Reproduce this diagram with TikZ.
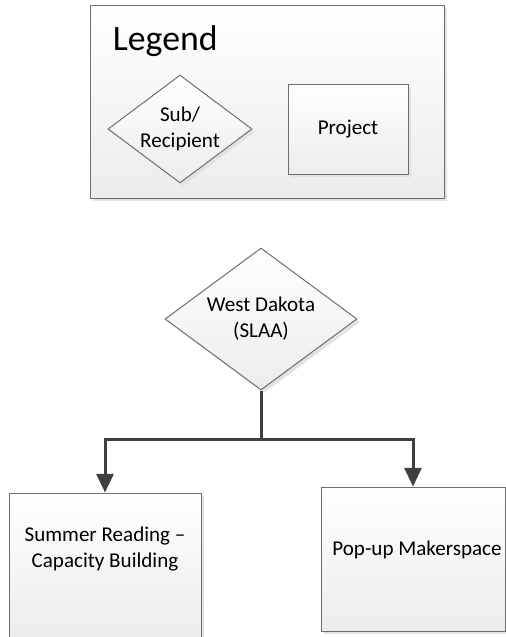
\documentclass[tikz,border=0pt]{standalone}
\usepackage{fontspec}
\setmainfont{Carlito}
\usetikzlibrary{shapes.geometric,arrows.meta,shadows}

\definecolor{shapeline}{RGB}{110,110,110}
\definecolor{shapefill}{RGB}{236,236,236}
\definecolor{shapeshadow}{RGB}{226,226,226}
\definecolor{linkcolor}{RGB}{64,64,64}

\tikzset{every picture/.style={line width=0.75pt}}
\tikzset{
  shapebox/.style={draw=shapeline, top color=white, bottom color=shapefill, inner sep=0pt,
    drop shadow={shadow xshift=2.25pt, shadow yshift=-2.25pt, fill=shapeshadow, opacity=1}},
  rectnode/.style={shapebox, rectangle},
  diamondnode/.style={shapebox, diamond, aspect=1.35},
  labeltext/.style={font=\fontsize{15.8}{19.5}\selectfont, align=center},
  connector/.style={draw=linkcolor, line width=2.25pt, -{Triangle[width=12.75pt,length=14pt]}}
}

\begin{document}
\begin{tikzpicture}[x=0.75pt,y=0.75pt,yscale=-1,xscale=1]
	\useasboundingbox (0,0) rectangle (506,637);

	%Shape: Rectangle [legend frame]
	\node [rectnode, minimum width=265.5pt, minimum height=144.75pt] (legend) at (267,101.5) {};
	% Text Node
	\node [anchor=base west, font=\fontsize{26.8}{32}\selectfont] (legendtitle) at (108,50) {Legend};
	%Shape: Diamond
	\node [diamondnode, labeltext, minimum width=108pt, minimum height=81pt] (subrecip) at (180,129) {Sub/\\Recipient};
	%Shape: Rectangle
	\node [rectnode, labeltext, minimum width=90pt, minimum height=67.5pt] (project) at (348,129) {Project};

	%Shape: Diamond
	\node [diamondnode, labeltext, minimum width=144pt, minimum height=106.5pt] (westdakota) at (261,319) {West Dakota\\(SLAA)};

	%Shape: Rectangle
	\node [rectnode, minimum width=144pt, minimum height=108pt] (summer) at (105,565) {};
	% Text Node
	\node [labeltext] (summertext) at (105,549) {Summer Reading --\\Capacity Building};
	%Shape: Rectangle
	\node [rectnode, minimum width=138pt, minimum height=108pt] (makerspace) at (413,559) {};
	% Text Node
	\node [labeltext] (makertext) at (417,550) {Pop-up Makerspace};

	%Connector Lines
	\coordinate (split) at (261,439);
	\draw [connector] (westdakota.south) -- (split) -| (summer.north);
	\draw [connector] (split) -| (makerspace.north);

\end{tikzpicture}
\end{document}
